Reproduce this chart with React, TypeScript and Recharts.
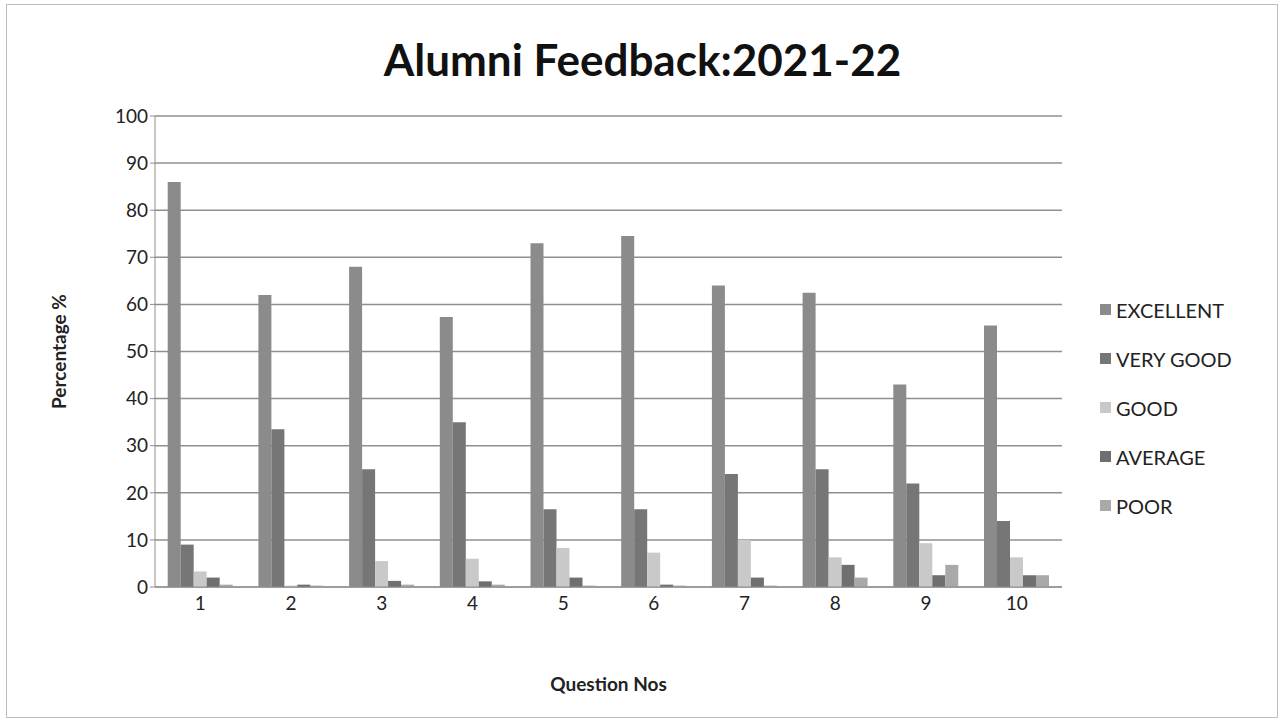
import React from 'react';
import { BarChart, Bar, XAxis, YAxis, CartesianGrid } from 'recharts';

const QUESTIONS = ['1', '2', '3', '4', '5', '6', '7', '8', '9', '10'];
const EXCELLENT = [86, 62, 68, 57.3, 73, 74.5, 64, 62.5, 43, 55.5];
const VERY_GOOD = [9, 33.5, 25, 35, 16.5, 16.5, 24, 25, 22, 14];
const GOOD = [3.3, 0.3, 5.5, 6, 8.3, 7.3, 10, 6.3, 9.3, 6.3];
const AVERAGE = [2, 0.5, 1.3, 1.2, 2, 0.5, 2, 4.7, 2.5, 2.5];
const POOR = [0.5, 0.3, 0.5, 0.5, 0.3, 0.3, 0.3, 2, 4.7, 2.5];
const Y_TICKS = [0, 10, 20, 30, 40, 50, 60, 70, 80, 90, 100];

const SERIES = [
  { key: 'EXCELLENT', color: '#8b8b8b' },
  { key: 'VERY GOOD', color: '#767676' },
  { key: 'GOOD', color: '#c9c9c9' },
  { key: 'AVERAGE', color: '#6f6f6f' },
  { key: 'POOR', color: '#a9a9a9' },
];

const data = QUESTIONS.map((q, i) => ({
  name: q,
  EXCELLENT: EXCELLENT[i],
  'VERY GOOD': VERY_GOOD[i],
  GOOD: GOOD[i],
  AVERAGE: AVERAGE[i],
  POOR: POOR[i],
}));

const FONT = 'Lato, "Open Sans", sans-serif';

function LegendBox() {
  return (
    <div style={{ position: 'absolute', left: 1100, top: 285, fontFamily: FONT, fontSize: 20, color: '#222' }}>
      {SERIES.map((s) => (
        <div key={s.key} style={{ display: 'flex', alignItems: 'center', height: 49 }}>
          <span style={{ width: 11, height: 11, background: s.color, marginRight: 5, display: 'inline-block' }} />
          {s.key}
        </div>
      ))}
    </div>
  );
}

export default function App() {
  return (
    <div style={{ position: 'absolute', left: 0, top: 0, width: 1285, height: 725, background: '#fff' }}>
      <div style={{ position: 'absolute', left: 6, top: 4, width: 1270, height: 712, border: '1px solid #bdbdbd' }} />
      <div style={{ position: 'absolute', left: 0, top: 33, width: 1285, textAlign: 'center', fontFamily: FONT, fontWeight: 700, fontSize: 44, color: '#111' }}>
        Alumni Feedback:2021-22
      </div>
      <BarChart
        width={1285}
        height={725}
        data={data}
        margin={{ top: 116, right: 223, bottom: 28, left: 95 }}
        barCategoryGap="14%"
        barGap={0}
      >
        <CartesianGrid vertical={false} stroke="#8f8f8f" strokeWidth={1.5} />
        <XAxis
          dataKey="name"
          height={110}
          axisLine={{ stroke: '#8f8f8f' }}
          tickLine={false}
          tick={{ fill: '#222', fontSize: 19, fontFamily: FONT }}
          tickMargin={4}
          label={{ value: 'Question Nos', position: 'insideBottom', offset: 6, fill: '#222', fontSize: 19, fontWeight: 700, fontFamily: FONT }}
        />
        <YAxis
          width={60}
          domain={[0, 100]}
          ticks={Y_TICKS}
          axisLine={{ stroke: '#8f8f8f' }}
          tickLine={{ stroke: '#8f8f8f' }}
          tickSize={5}
          tick={{ fill: '#222', fontSize: 19, fontFamily: FONT }}
          label={{ value: 'Percentage %', angle: -90, position: 'insideLeft', offset: -36, fill: '#222', fontSize: 19, fontWeight: 700, fontFamily: FONT, style: { textAnchor: 'middle' } }}
        />
        {SERIES.map((s) => (
          <Bar key={s.key} dataKey={s.key} fill={s.color} isAnimationActive={false} />
        ))}
      </BarChart>
      <LegendBox />
    </div>
  );
}
